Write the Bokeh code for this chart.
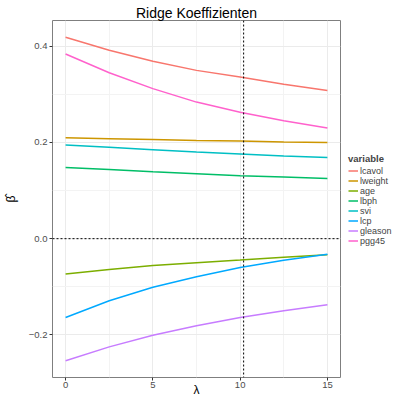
from bokeh.plotting import figure
from bokeh.layouts import row
from bokeh.models import Span, Legend, LegendItem, FixedTicker, Range1d
from bokeh.embed import file_html
from bokeh.resources import INLINE

lam = [0, 2.5, 5, 7.5, 10, 12.5, 15]
variables = ["lcavol", "lweight", "age", "lbph", "svi", "lcp", "gleason", "pgg45"]
lcavol = [0.419, 0.392, 0.369, 0.350, 0.336, 0.321, 0.308]
lweight = [0.210, 0.208, 0.206, 0.204, 0.203, 0.201, 0.200]
age = [-0.0736, -0.064, -0.0556, -0.050, -0.0445, -0.0385, -0.0333]
lbph = [0.148, 0.144, 0.139, 0.135, 0.131, 0.128, 0.125]
svi = [0.195, 0.190, 0.185, 0.180, 0.176, 0.172, 0.169]
lcp = [-0.164, -0.129, -0.101, -0.079, -0.060, -0.045, -0.0326]
gleason = [-0.254, -0.225, -0.201, -0.181, -0.164, -0.150, -0.1375]
pgg45 = [0.384, 0.345, 0.312, 0.284, 0.263, 0.245, 0.230]
series = [lcavol, lweight, age, lbph, svi, lcp, gleason, pgg45]
colors = ["#F8766D", "#CD9600", "#7CAE00", "#00BE67", "#00BFC4", "#00A9FF", "#C77CFF", "#FF61CC"]
lambda_opt = 10.2
x_ticks = [0, 5, 10, 15]
y_ticks = [-0.2, 0.0, 0.2, 0.4]
y_labels = {-0.2: "\u22120.2", 0.0: "0.0", 0.2: "0.2", 0.4: "0.4"}
title = "Ridge Koeffizienten"

FONT = "Liberation Sans"
H = 399

p = figure(width=343, height=H, output_backend="svg", toolbar_location=None,
           x_range=Range1d(-0.75, 15.75), y_range=Range1d(-0.2887, 0.4537),
           min_border_left=52, min_border_right=3, min_border_top=20, min_border_bottom=0)
p.background_fill_color = "white"
p.border_fill_color = "white"
p.outline_line_color = "#7F7F7F"
p.outline_line_width = 1

p.title.text = title
p.title.align = "center"
p.title.text_font = FONT
p.title.text_font_size = "14px"
p.title.text_font_style = "normal"
p.title.text_color = "black"
p.title.standoff = 0
p.title.offset = 0

p.xaxis.ticker = FixedTicker(ticks=x_ticks, minor_ticks=[2.5, 7.5, 12.5])
p.yaxis.ticker = FixedTicker(ticks=y_ticks, minor_ticks=[-0.1, 0.1, 0.3])
p.yaxis.major_label_overrides = y_labels
p.xaxis.major_label_overrides = {t: str(t) for t in x_ticks}

for ax in (p.xaxis, p.yaxis):
    ax.axis_line_color = None
    ax.major_tick_line_color = "#333333"
    ax.major_tick_in = 0
    ax.major_tick_out = 3
    ax.minor_tick_line_color = None
    ax.major_label_text_font = FONT
    ax.major_label_text_font_size = "9.5px"
    ax.major_label_text_color = "#4D4D4D"
    ax.major_label_standoff = 1
    ax.axis_label_text_font = FONT
    ax.axis_label_text_font_size = "12px"
    ax.axis_label_text_font_style = "normal"
    ax.axis_label_text_color = "black"

p.xaxis.major_label_standoff = 0
p.xaxis.axis_label_standoff = -8
p.yaxis.axis_label_standoff = 8

p.xaxis.axis_label = "\u03bb"
p.yaxis.axis_label = "\u03b2\u0302"

for g in (p.xgrid, p.ygrid):
    g.grid_line_color = "#EBEBEB"
    g.grid_line_width = 1
    g.minor_grid_line_color = "#F3F3F3"
    g.minor_grid_line_width = 1

for name, vals, col in zip(variables, series, colors):
    p.line(lam, vals, line_color=col, line_width=1.5)

p.add_layout(Span(location=0, dimension="width", line_color="black", line_dash="2 2", line_width=1))
p.add_layout(Span(location=lambda_opt, dimension="height", line_color="black", line_dash="2 2", line_width=1))

# legend panel: separate figure whose frame holds only the legend
pl = figure(width=49, height=H, output_backend="svg", toolbar_location=None,
            x_range=Range1d(100, 101), y_range=Range1d(100, 101),
            x_axis_location=None, y_axis_location=None,
            min_border_left=0, min_border_right=0, min_border_top=0, min_border_bottom=0)
pl.grid.visible = False
pl.outline_line_color = None
pl.background_fill_color = "white"
pl.border_fill_color = "white"

items = []
for name, vals, col in zip(variables, series, colors):
    r = pl.line(lam, vals, line_color=col, line_width=1.5)
    items.append(LegendItem(label=name, renderers=[r]))

legend = Legend(items=items, location="center_left", title="variable",
                title_text_font=FONT, title_text_font_size="9.5px", title_text_font_style="bold",
                title_standoff=2,
                label_text_font=FONT, label_text_font_size="9px", label_standoff=2,
                glyph_width=10, glyph_height=10, label_height=10, spacing=0,
                padding=0, margin=5, border_line_color=None, background_fill_alpha=0)
pl.add_layout(legend, "center")

layout = row(p, pl)
open("out.html", "w").write(file_html(layout, INLINE))
